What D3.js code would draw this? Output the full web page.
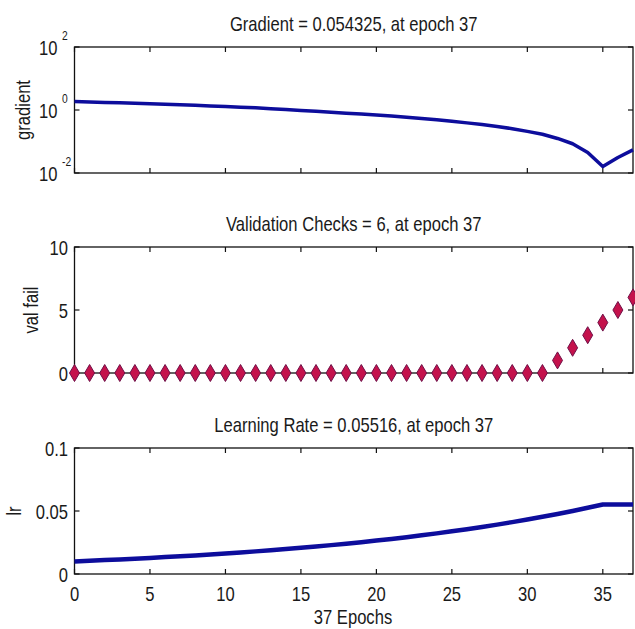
<!DOCTYPE html>
<html>
<head>
<meta charset="utf-8">
<script src="https://cdn.jsdelivr.net/npm/d3@7"></script>
<style>
  html, body { margin: 0; padding: 0; background: #fff; }
  svg text { font-family: "Liberation Sans", Arial, sans-serif; fill: #1a1a1a; }
</style>
</head>
<body>
<svg id="chart" width="635" height="629"></svg>
<script>
// Training record, one entry per epoch (0..37)
const epochs = d3.range(0, 38);
const gradient = [1.85, 1.80, 1.74, 1.69, 1.63, 1.58, 1.52, 1.47, 1.41, 1.35,
                  1.29, 1.23, 1.17, 1.10, 1.04, 0.97, 0.91, 0.85, 0.79, 0.74,
                  0.69, 0.64, 0.59, 0.54, 0.49, 0.44, 0.39, 0.345, 0.30, 0.255,
                  0.21, 0.17, 0.125, 0.085, 0.045, 0.016, 0.031, 0.054325];
const valFail = [0, 0, 0, 0, 0, 0, 0, 0, 0, 0,
                 0, 0, 0, 0, 0, 0, 0, 0, 0, 0,
                 0, 0, 0, 0, 0, 0, 0, 0, 0, 0,
                 0, 0, 1, 2, 3, 4, 5, 6];
const learningRate = [0.01, 0.0105, 0.011025, 0.011576, 0.012155, 0.012763, 0.013401, 0.014071, 0.014775, 0.015513,
                      0.016289, 0.017103, 0.017959, 0.018856, 0.019799, 0.020789, 0.021829, 0.022920, 0.024066, 0.025270,
                      0.026533, 0.027860, 0.029253, 0.030715, 0.032251, 0.033864, 0.035557, 0.037335, 0.039201, 0.041161,
                      0.043219, 0.045380, 0.047649, 0.050032, 0.052533, 0.055160, 0.055160, 0.055160];
const xTicks = [0, 5, 10, 15, 20, 25, 30, 35];
const gradTicks = [1e-2, 1e0, 1e2];
const valTicks = [0, 5, 10];
const lrTicks = [0, 0.05, 0.1];
const titles = ["Gradient = 0.054325, at epoch 37",
                "Validation Checks = 6, at epoch 37",
                "Learning Rate = 0.05516, at epoch 37"];
const yLabels = ["gradient", "val fail", "lr"];
const xLabel = "37 Epochs";

const svg = d3.select("#chart");
const lineColor = "#0d0d9c";
const FS = 21;          // font size
const SQUEEZE = 0.79;   // narrow glyph width

const x = d3.scaleLinear().domain([0, 37]).range([74.5, 633]);

// Horizontally condensed text helper
function narrow(sel) {
  sel.each(function () {
    const w = this.getComputedTextLength();
    if (w > 0) {
      d3.select(this).attr("textLength", w * SQUEEZE).attr("lengthAdjust", "spacingAndGlyphs");
    }
  });
}

const panels = [
  { top: 47, bottom: 173, y: d3.scaleLog().domain([1e-2, 1e2]), ticks: gradTicks, titleY: 31, labelX: 30 },
  { top: 247, bottom: 373, y: d3.scaleLinear().domain([0, 10]), ticks: valTicks, titleY: 231, labelX: 38 },
  { top: 448, bottom: 574, y: d3.scaleLinear().domain([0, 0.1]), ticks: lrTicks, titleY: 432, labelX: 21 }
];

panels.forEach((p, i) => {
  p.y.range([p.bottom, p.top]);
  const g = svg.append("g");
  const x0 = x.range()[0], x1 = x.range()[1];
  const tl = 5;

  // frame
  g.append("rect").attr("x", x0).attr("y", p.top)
    .attr("width", x1 - x0).attr("height", p.bottom - p.top)
    .attr("fill", "none").attr("stroke", "#111").attr("stroke-width", 1.3);

  // x tick marks (inside, top and bottom)
  xTicks.forEach(t => {
    g.append("line").attr("x1", x(t)).attr("x2", x(t)).attr("y1", p.bottom).attr("y2", p.bottom - tl)
      .attr("stroke", "#111").attr("stroke-width", 1.2);
    g.append("line").attr("x1", x(t)).attr("x2", x(t)).attr("y1", p.top).attr("y2", p.top + tl)
      .attr("stroke", "#111").attr("stroke-width", 1.2);
  });
  // y tick marks (inside, left and right)
  p.ticks.forEach(t => {
    g.append("line").attr("x1", x0).attr("x2", x0 + tl).attr("y1", p.y(t)).attr("y2", p.y(t))
      .attr("stroke", "#111").attr("stroke-width", 1.2);
    g.append("line").attr("x1", x1).attr("x2", x1 - tl).attr("y1", p.y(t)).attr("y2", p.y(t))
      .attr("stroke", "#111").attr("stroke-width", 1.2);
  });

  // y tick labels
  p.ticks.forEach(t => {
    const ty = p.y(t);
    if (i === 0) {
      const e = Math.round(Math.log10(t));
      // base "10" and its exponent as separate labels
      g.append("text").attr("x", 57.5).attr("y", ty + 7.5)
        .attr("text-anchor", "end").attr("font-size", FS).text("10").call(narrow);
      g.append("text").attr("x", 62).attr("y", ty - 7)
        .attr("text-anchor", "start").attr("font-size", 13).text(String(e)).call(narrow);
    } else {
      g.append("text").attr("x", 68).attr("y", ty + 7.5)
        .attr("text-anchor", "end").attr("font-size", FS).text(String(t)).call(narrow);
    }
  });

  // title
  g.append("text").attr("x", (x0 + x1) / 2).attr("y", p.titleY)
    .attr("text-anchor", "middle").attr("font-size", FS).text(titles[i]).call(narrow);

  // y label
  g.append("text")
    .attr("transform", `translate(${p.labelX},${(p.top + p.bottom) / 2}) rotate(-90)`)
    .attr("text-anchor", "middle").attr("font-size", FS).text(yLabels[i]).call(narrow);
});

// gradient (log scale)
const pg = panels[0];
svg.append("path")
  .datum(epochs)
  .attr("fill", "none").attr("stroke", lineColor).attr("stroke-width", 3.5)
  .attr("stroke-linejoin", "round")
  .attr("d", d3.line().x(d => x(d)).y(d => pg.y(gradient[d])));

// validation failures as diamond markers
const pv = panels[1];
const diamond = "M0,-8.5 L5,0 L0,8.5 L-5,0 Z";
svg.append("g").selectAll("path")
  .data(epochs)
  .join("path")
  .attr("transform", d => `translate(${x(d)},${pv.y(valFail[d])})`)
  .attr("d", diamond)
  .attr("fill", "#c4124c")
  .attr("stroke", "#701048")
  .attr("stroke-width", 1);

// learning rate
const pl = panels[2];
svg.append("path")
  .datum(epochs)
  .attr("fill", "none").attr("stroke", lineColor).attr("stroke-width", 4.5)
  .attr("stroke-linejoin", "round")
  .attr("d", d3.line().x(d => x(d)).y(d => pl.y(learningRate[d])));

// x tick labels on the bottom panel
xTicks.forEach(t => {
  svg.append("text").attr("x", x(t)).attr("y", 601)
    .attr("text-anchor", "middle").attr("font-size", FS).text(String(t)).call(narrow);
});

// x axis label
svg.append("text").attr("x", 353).attr("y", 624)
  .attr("text-anchor", "middle").attr("font-size", FS).text(xLabel).call(narrow);
</script>
</body>
</html>
